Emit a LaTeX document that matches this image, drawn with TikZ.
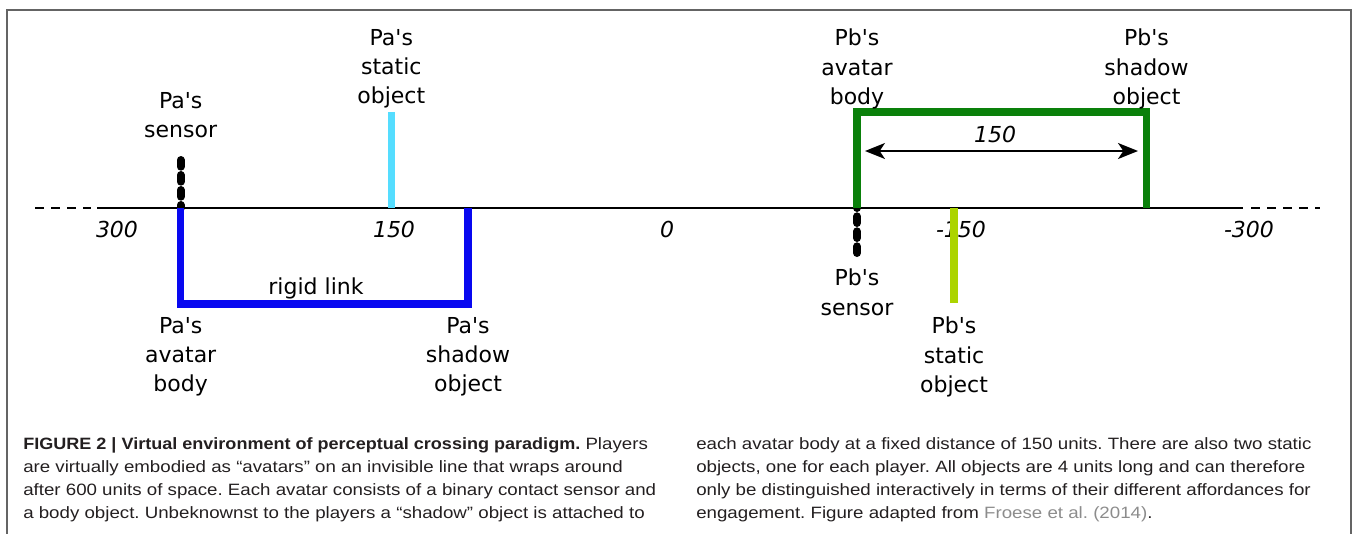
\documentclass[tikz,border=0pt]{standalone}
\usepackage{fontspec}
\newfontfamily\lblfont{DejaVu Sans}
\newfontfamily\capfont[FakeStretch=1.14, BoldFeatures={FakeStretch=1.1}]{Liberation Sans}
\usetikzlibrary{positioning, arrows.meta, calc}
\frenchspacing

\definecolor{bodyblue}{RGB}{8,8,240}
\definecolor{bodygreen}{RGB}{10,128,10}
\definecolor{staticcyan}{RGB}{85,221,255}
\definecolor{staticlime}{RGB}{172,212,0}
\definecolor{framegray}{RGB}{100,100,100}
\definecolor{captext}{RGB}{35,31,32}
\definecolor{citegray}{RGB}{140,140,140}

\begin{document}
\begin{tikzpicture}[x=0.75pt, y=-0.75pt,
    lbl/.style={align=center, inner sep=0pt, font=\lblfont\fontsize{16.5}{22}\selectfont},
    num/.style={inner sep=0pt, anchor=base, font=\lblfont\itshape\fontsize{16.5}{22}\selectfont},
    capline/.style={inner sep=0pt, anchor=base west, text=captext, font=\capfont\fontsize{12.3}{17}\selectfont},
    axisline/.style={line width=1.5pt},
    link/.style={line width=5.6pt},
    object/.style={line width=5.3pt},
    sensor/.style={line width=6pt, line cap=round, dash pattern=on 5pt off 6.25pt}]
    \useasboundingbox (0,0) rectangle (1356,533);
    \draw[framegray, line width=1.5pt] (7.3,545) -- (7.3,10) -- (1350.7,10) -- (1350.7,545);

    % line of the environment
    \coordinate (axL) at (35,208);
    \coordinate (axLe) at (91,208);
    \coordinate (axA) at (97,208);
    \coordinate (axB) at (1243,208);
    \coordinate (axRs) at (1251,208);
    \coordinate (axR) at (1320,208);
    \draw[axisline, dash pattern=on 6.5pt off 5.5pt] (axL) -- (axLe);
    \draw[axisline] (axA) -- (axB);
    \draw[axisline, dash pattern=on 6.5pt off 5.5pt] (axRs) -- (axR);

    \node[num] (n300) at (117,237) {300};
    \node[num] (n150) at (394,237) {150};
    \node[num] (n0) at (667,237) {0};
    \node[num] (nm150) at (961,237) {-150};
    \node[num] (nm300) at (1249,237) {-300};

    % player a
    \coordinate (paBody) at (180.7,208);
    \coordinate (paShadow) at (468,208);
    \coordinate (paSensor) at (180.7,160);
    \coordinate (paStatic) at (391.3,208);
    \coordinate (paStaticTop) at (391.3,112);
    \draw[sensor] (paSensor) -- (paBody);
    \draw[link, bodyblue] (paBody) -- ++(0,96) coordinate (paLink) -| (paShadow);
    \draw[object, staticcyan] (paStatic) -- (paStaticTop);

    \node[lbl, anchor=north] (paSensorLbl) at (180.7,92) {Pa's\\sensor};
    \node[lbl, anchor=north] (paStaticLbl) at (391.3,29) {Pa's\\static\\object};
    \node[lbl, anchor=base] (rigidLbl) at (316,294) {rigid link};
    \node[lbl, anchor=north] (paBodyLbl) at (180.7,317) {Pa's\\avatar\\body};
    \node[lbl, anchor=north] (paShadowLbl) at (468,317) {Pa's\\shadow\\object};

    % player b
    \coordinate (pbBody) at (857,208);
    \coordinate (pbShadow) at (1146.5,208);
    \coordinate (pbSensor) at (857,253);
    \coordinate (pbStatic) at (954,208);
    \coordinate (pbStaticEnd) at (954,303);
    \draw[sensor] (pbSensor) -- (pbBody);
    \draw[link, bodygreen] (pbBody) -- ++(0,-96) -| (pbShadow);
    \draw[object, staticlime] (pbStatic) -- (pbStaticEnd);

    \coordinate (arL) at (865,151);
    \coordinate (arR) at (1138,151);
    \draw[{Stealth[length=15pt, width=12pt, inset=4pt]}-{Stealth[length=15pt, width=12pt, inset=4pt]}, line width=1.4pt] (arL) -- (arR);
    \node[num] (distLbl) at (995,142) {150};

    \node[lbl, anchor=north] (pbBodyLbl) at (857,29) {Pb's\\avatar\\body};
    \node[lbl, anchor=north] (pbShadowLbl) at (1146.5,29) {Pb's\\shadow\\object};
    \node[lbl, anchor=north] (pbSensorLbl) at (857,269) {Pb's\\sensor};
    \node[lbl, anchor=north] (pbStaticLbl) at (954,317) {Pb's\\static\\object};

    % caption
    \node[capline] (capA1) at (23,449) {\textbf{FIGURE 2 | Virtual environment of perceptual crossing paradigm.} Players};
    \node[capline] (capA2) at (23,472) {are virtually embodied as “avatars” on an invisible line that wraps around};
    \node[capline] (capA3) at (23,495) {after 600 units of space. Each avatar consists of a binary contact sensor and};
    \node[capline] (capA4) at (23,518) {a body object. Unbeknownst to the players a “shadow” object is attached to};
    \node[capline] (capB1) at (696,449) {each avatar body at a fixed distance of 150 units. There are also two static};
    \node[capline] (capB2) at (696,472) {objects, one for each player. All objects are 4 units long and can therefore};
    \node[capline] (capB3) at (696,495) {only be distinguished interactively in terms of their different affordances for};
    \node[capline] (capB4) at (696,518) {engagement. Figure adapted from \textcolor{citegray}{Froese et al. (2014)}.};
\end{tikzpicture}
\end{document}
